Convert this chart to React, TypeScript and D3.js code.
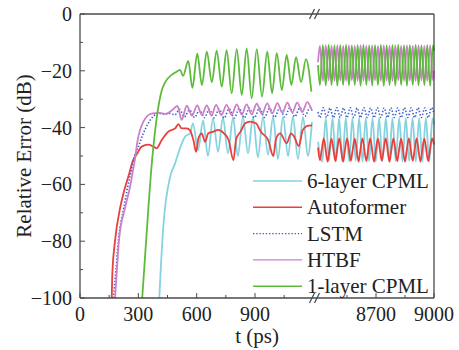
import React from "react";
import * as d3 from "d3";

type Pt = [number, number];

// axis ticks
const yTicks = [0, -20, -40, -60, -80, -100];
const yMinor = [-10, -30, -50, -70, -90];
const xTicksEarly = [0, 300, 600, 900];
const xMinorEarly = [150, 450, 750, 1050];
const xTicksLate = [8700, 9000];
const xMinorLate = [8550, 8850];

// 6-layer CPML
const cpml6Early: Pt[] = [
  [408, -100], [415, -90], [425, -78], [437, -68.4], [450, -62], [466, -56.7], [489, -52.6], [514, -47.3],
  [540, -43.2], [566, -42], [581, -38.5], [607, -48], [633, -37.5], [658, -50], [684, -36.8], [710, -48.5],
  [735, -36.5], [761, -49], [787, -36.5], [812, -50], [838, -36.3], [864, -49], [890, -36.3], [915, -50.5],
  [941, -36.2], [967, -49.5], [993, -36.2], [1018, -51], [1044, -36.2], [1070, -50], [1095, -36.2],
  [1121, -51], [1147, -36.3], [1172, -50], [1193, -38],
];
const cpml6Late: Pt[] = [
  [8400, -45], [8422, -52], [8440, -36.8], [8457, -51.5], [8475, -36.6], [8492, -52], [8509, -36.7],
  [8526, -51.8], [8544, -36.6], [8561, -52], [8578, -36.7], [8595, -51.6], [8613, -36.6], [8630, -52],
  [8647, -36.7], [8664, -51.8], [8682, -36.6], [8699, -52], [8716, -36.7], [8733, -51.7], [8751, -36.6],
  [8768, -52], [8785, -36.7], [8802, -51.8], [8820, -36.6], [8837, -52], [8854, -36.7], [8871, -51.7],
  [8889, -36.6], [8906, -52], [8923, -36.7], [8940, -51.8], [8958, -36.6], [8975, -52], [8992, -36.8],
  [9000, -39],
];

// Autoformer
const autoformerEarly: Pt[] = [
  [163, -100], [166, -92], [180, -80], [206, -68.4], [226, -62.5], [254, -56], [270, -52], [291, -49.5],
  [317, -46.7], [351, -46], [377, -46.7], [394, -47.3], [420, -44.4], [454, -41.4], [489, -40.3],
  [506, -38.8], [523, -40.3], [549, -40.3], [566, -41], [583, -44.4], [597, -48.5], [609, -43.8],
  [626, -42], [643, -45], [660, -42], [686, -41.4], [711, -40.8], [740, -42], [765, -44.5], [789, -51.5],
  [803, -44], [825, -41.5], [850, -38.5], [874, -37.9], [905, -38.5], [930, -41.5], [968, -44.4],
  [994, -50], [1008, -44], [1029, -42], [1063, -45.5], [1085, -42], [1100, -43], [1125, -46.5],
  [1145, -41], [1166, -39.5], [1193, -39.2],
];
const autoformerLate: Pt[] = [
  [8400, -47], [8410, -51.5], [8418, -48.5], [8430, -43.8], [8450, -52], [8458, -48.5], [8470, -43.9],
  [8490, -51.8], [8498, -48.5], [8510, -43.8], [8530, -52], [8538, -48.6], [8550, -43.8], [8570, -51.7],
  [8578, -48.5], [8590, -43.9], [8610, -52], [8618, -48.5], [8630, -43.8], [8650, -51.8], [8658, -48.6],
  [8670, -43.8], [8690, -52], [8698, -48.5], [8710, -43.9], [8730, -51.7], [8738, -48.5], [8750, -43.8],
  [8770, -52], [8778, -48.6], [8790, -43.8], [8810, -51.8], [8818, -48.5], [8830, -43.9], [8850, -52],
  [8858, -48.5], [8870, -43.8], [8890, -51.7], [8898, -48.6], [8910, -43.8], [8930, -52], [8938, -48.5],
  [8950, -43.9], [8970, -51.8], [8978, -48.5], [8990, -43.8], [9000, -46],
];

// LSTM
const lstmEarly: Pt[] = [
  [171, -100], [185, -90], [197, -80], [226, -68], [245, -61], [261, -56], [280, -50], [300, -46.7],
  [326, -42], [351, -38.5], [377, -36], [403, -35], [430, -35.3], [460, -35], [488, -35.5], [512, -33.6],
  [537, -36.2], [563, -33.8], [589, -36.4], [615, -33.8], [640, -36.5], [665, -33.6], [690, -36.5],
  [716, -33.5], [741, -36.6], [767, -33.4], [793, -36.6], [819, -33.3], [845, -36.5], [871, -33.2],
  [897, -36.5], [923, -33.2], [949, -36.4], [975, -33.2], [1001, -36.3], [1027, -33.1], [1053, -36.2],
  [1079, -33.1], [1105, -36.1], [1131, -33], [1157, -36], [1183, -33], [1193, -34],
];
const lstmLate: Pt[] = [
  [8400, -34.5], [8410, -36.5], [8427, -33], [8445, -36.4], [8462, -33.1], [8480, -36.5], [8497, -33],
  [8515, -36.4], [8532, -33.1], [8550, -36.5], [8567, -33], [8585, -36.4], [8602, -33.1], [8620, -36.5],
  [8637, -33], [8655, -36.4], [8672, -33.1], [8690, -36.5], [8707, -33], [8725, -36.4], [8742, -33.1],
  [8760, -36.5], [8777, -33], [8795, -36.4], [8812, -33.1], [8830, -36.5], [8847, -33], [8865, -36.4],
  [8882, -33.1], [8900, -36.5], [8917, -33], [8935, -36.4], [8952, -33.1], [8970, -36.5], [8987, -33],
  [9000, -35],
];

// HTBF
const htbfEarly: Pt[] = [
  [180, -100], [190, -90], [200, -80], [231, -68.4], [257, -61], [270, -56], [283, -51], [295, -45],
  [309, -40.8], [326, -37.9], [351, -35.6], [375, -35], [410, -34.8], [440, -35.2], [471, -34],
  [501, -32.4], [523, -37.3], [549, -32.3], [576, -35.8], [603, -32.2], [627, -35.6], [652, -32.2],
  [676, -35.8], [700, -32], [727, -35.6], [754, -32], [780, -35.5], [806, -31.8], [832, -35.4],
  [857, -31.8], [883, -35.3], [909, -31.6], [936, -35.2], [963, -31.5], [989, -35], [1015, -31.4],
  [1041, -34.8], [1066, -31.2], [1092, -34.6], [1117, -31.2], [1143, -34.5], [1169, -31], [1193, -34],
];
const htbfLate: Pt[] = [
  [8400, -17], [8410, -11.2], [8425, -23.5], [8440, -11.1], [8455, -23.3], [8470, -11.2], [8485, -23.5],
  [8500, -11.1], [8515, -23.4], [8530, -11.2], [8545, -23.5], [8560, -11.1], [8575, -23.3], [8590, -11.2],
  [8605, -23.5], [8620, -11.1], [8635, -23.4], [8650, -11.2], [8665, -23.5], [8680, -11.1], [8695, -23.3],
  [8710, -11.2], [8725, -23.5], [8740, -11.1], [8755, -23.4], [8770, -11.2], [8785, -23.5], [8800, -11.1],
  [8815, -23.3], [8830, -11.2], [8845, -23.5], [8860, -11.1], [8875, -23.4], [8890, -11.2], [8905, -23.5],
  [8920, -11.1], [8935, -23.3], [8950, -11.2], [8965, -23.5], [8980, -11.1], [8995, -23.4], [9000, -20],
];

// 1-layer CPML
const cpml1Early: Pt[] = [
  [320, -100], [335, -85], [350, -70], [365, -56], [380, -45], [400, -34], [420, -27], [440, -23.8],
  [470, -21.5], [500, -20.2], [515, -19.7], [530, -21.8], [557, -16.5], [578, -26], [603, -14],
  [627, -25], [652, -13.3], [678, -24], [703, -12.9], [729, -25.6], [754, -12.7], [780, -27.9],
  [806, -12.4], [832, -28.5], [857, -12.1], [883, -29.7], [909, -12.4], [936, -29.1], [963, -13.3],
  [988, -27.9], [1012, -13.8], [1038, -26.8], [1063, -14.4], [1087, -25], [1111, -15.2], [1137, -24],
  [1162, -15.9], [1190, -27.3],
];
const cpml1Late: Pt[] = [
  [8400, -18], [8410, -25], [8425, -11], [8440, -25.2], [8455, -10.9], [8470, -25], [8485, -11.1],
  [8500, -25.3], [8515, -11], [8530, -25], [8545, -10.9], [8560, -25.2], [8575, -11.1], [8590, -25],
  [8605, -11], [8620, -25.3], [8635, -10.9], [8650, -25], [8665, -11.1], [8680, -25.2], [8695, -11],
  [8710, -25], [8725, -10.9], [8740, -25.3], [8755, -11.1], [8770, -25], [8785, -11], [8800, -25.2],
  [8815, -10.9], [8830, -25], [8845, -11.1], [8860, -25.3], [8875, -11], [8890, -25], [8905, -10.9],
  [8920, -25.2], [8935, -11.1], [8950, -25], [8965, -11], [8980, -25.3], [8995, -11], [9000, -13],
];

const series = [
  { name: "6-layer CPML", color: "#86d2de", dash: "", early: cpml6Early, late: cpml6Late },
  { name: "Autoformer", color: "#e8403c", dash: "", early: autoformerEarly, late: autoformerLate },
  { name: "LSTM", color: "#3a5fcd", dash: "1.4 1.8", early: lstmEarly, late: lstmLate },
  { name: "HTBF", color: "#cd80c8", dash: "", early: htbfEarly, late: htbfLate },
  { name: "1-layer CPML", color: "#5dbb3c", dash: "", early: cpml1Early, late: cpml1Late },
];

const W = 459;
const H = 350;
const left = 80, right = 434, top = 14, bottom = 298;
const font = '"Liberation Serif", "DejaVu Serif", "Times New Roman", serif';
const axisColor = "#4a4a4a";

export default function App() {
  const y = d3.scaleLinear().domain([-100, 0]).range([bottom, top]);
  const x1 = d3.scaleLinear().domain([0, 1200]).range([left, left + (1200 * 175) / 900]);
  const x2 = d3.scaleLinear().domain([8400, 9000]).range([318, right]);
  const line1 = d3.line<Pt>().x(d => x1(d[0])).y(d => y(d[1])).curve(d3.curveMonotoneX);
  const line2 = d3.line<Pt>().x(d => x2(d[0])).y(d => y(d[1])).curve(d3.curveMonotoneX);
  const fmt = (v: number) => String(v).replace("-", "\u2212");
  const breakX = [312, 317];
  const legendX = 253, legendY = 181, legendStep = 26.3;

  return (
    <svg width={W} height={H} style={{ position: "absolute", left: 0, top: 0, background: "#fff", fontFamily: font }}>
      {/* data */}
      {series.map(s => (
        <g key={s.name} fill="none" stroke={s.color} strokeWidth={s.dash ? 1.6 : 1.8} strokeDasharray={s.dash || undefined} strokeLinejoin="round">
          <path d={line1(s.early) || ""} />
          <path d={line2(s.late) || ""} />
        </g>
      ))}

      {/* frame */}
      <g stroke={axisColor} strokeWidth={1.3} fill="none">
        <line x1={left} x2={right} y1={top} y2={top} />
        <line x1={left} x2={right} y1={bottom} y2={bottom} />
        <line x1={left} x2={left} y1={top} y2={bottom} />
        <line x1={right} x2={right} y1={top} y2={bottom} />
      </g>

      {/* break marks */}
      <g stroke={axisColor} strokeWidth={1.2}>
        {[top, bottom].map(yy =>
          breakX.map(bx => <line key={`${yy}-${bx}`} x1={bx - 2.5} y1={yy + 5} x2={bx + 2.5} y2={yy - 5} />)
        )}
      </g>

      {/* ticks */}
      <g stroke={axisColor} strokeWidth={1}>
        {yTicks.map(t => <line key={t} x1={left} x2={left + 5} y1={y(t)} y2={y(t)} />)}
        {yMinor.map(t => <line key={t} x1={left} x2={left + 3} y1={y(t)} y2={y(t)} />)}
        {xTicksEarly.map(t => <line key={t} x1={x1(t)} x2={x1(t)} y1={bottom} y2={bottom - 5} />)}
        {xMinorEarly.map(t => <line key={t} x1={x1(t)} x2={x1(t)} y1={bottom} y2={bottom - 3} />)}
        {xTicksLate.map(t => <line key={t} x1={x2(t)} x2={x2(t)} y1={bottom} y2={bottom - 5} />)}
        {xMinorLate.map(t => <line key={t} x1={x2(t)} x2={x2(t)} y1={bottom} y2={bottom - 3} />)}
      </g>

      <g fontSize={20} fill="#222">
        {yTicks.map(t => (
          <text key={t} x={72} y={y(t)} dy="0.35em" textAnchor="end">{fmt(t)}</text>
        ))}
        {xTicksEarly.map(t => (
          <text key={t} x={x1(t)} y={321} textAnchor="middle">{t}</text>
        ))}
        {xTicksLate.map(t => (
          <text key={t} x={x2(t)} y={321} textAnchor="middle">{t}</text>
        ))}
      </g>

      {/* axis titles */}
      <text x={257} y={343} textAnchor="middle" fontSize={21} fill="#222">t (ps)</text>
      <text transform={`translate(31,${(top + bottom) / 2}) rotate(-90)`} textAnchor="middle" fontSize={21} fill="#222">
        Relative Error (dB)
      </text>

      {/* legend */}
      {series.map((s, i) => {
        const ly = legendY + i * legendStep;
        return (
          <g key={s.name}>
            <line x1={legendX} x2={legendX + 49} y1={ly} y2={ly} stroke={s.color} strokeWidth={1.4}
              strokeDasharray={s.dash || undefined} />
            <text x={legendX + 54} y={ly} dy="0.33em" fontSize={21} fill="#222">{s.name}</text>
          </g>
        );
      })}
    </svg>
  );
}
